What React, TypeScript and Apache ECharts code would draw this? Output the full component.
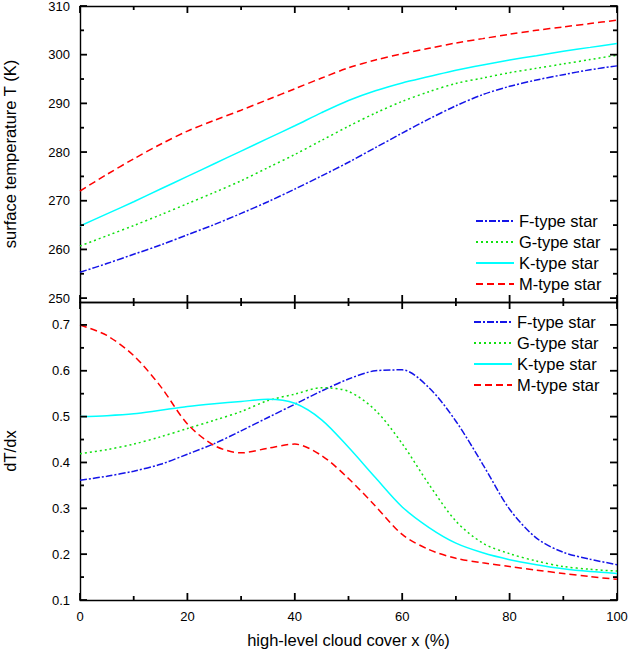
import React, { useEffect, useRef } from "react";
import * as echarts from "echarts";

// high-level cloud cover x (%)
const cloudCover = [0, 5, 10, 15, 20, 25, 30, 35, 40, 45, 50, 55, 60, 65, 70, 75, 80, 85, 90, 95, 100];

const starNames = ["F-type star", "G-type star", "K-type star", "M-type star"];

// surface temperature T (K)
const tempF = [255.3, 257.1, 259.0, 260.9, 263.0, 265.1, 267.4, 269.8, 272.4, 275.1, 277.9, 280.9, 283.9, 286.8, 289.5, 291.8, 293.5, 294.8, 295.9, 296.9, 297.7];
const tempG = [260.7, 262.8, 264.9, 267.1, 269.4, 271.7, 274.1, 276.8, 279.5, 282.4, 285.3, 288.0, 290.4, 292.4, 294.1, 295.2, 296.3, 297.2, 298.1, 299.0, 299.9];
const tempK = [264.8, 267.3, 269.8, 272.4, 275.0, 277.6, 280.2, 282.8, 285.4, 288.1, 290.6, 292.6, 294.2, 295.5, 296.8, 297.9, 298.9, 299.8, 300.7, 301.5, 302.3];
const tempM = [272.0, 275.4, 278.6, 281.6, 284.3, 286.5, 288.6, 290.8, 293.0, 295.2, 297.3, 298.9, 300.2, 301.3, 302.4, 303.3, 304.2, 305.0, 305.7, 306.4, 307.1];

// dT/dx
const slopeF = [0.361, 0.370, 0.381, 0.396, 0.418, 0.441, 0.469, 0.498, 0.527, 0.556, 0.582, 0.600, 0.602, 0.563, 0.490, 0.396, 0.298, 0.235, 0.204, 0.189, 0.177];
const slopeG = [0.419, 0.428, 0.440, 0.456, 0.474, 0.492, 0.511, 0.535, 0.549, 0.563, 0.555, 0.514, 0.441, 0.352, 0.272, 0.224, 0.201, 0.185, 0.173, 0.167, 0.163];
const slopeK = [0.500, 0.502, 0.506, 0.514, 0.522, 0.528, 0.533, 0.538, 0.529, 0.493, 0.433, 0.367, 0.303, 0.258, 0.224, 0.203, 0.188, 0.177, 0.168, 0.162, 0.158];
const slopeM = [0.700, 0.677, 0.633, 0.566, 0.484, 0.437, 0.421, 0.431, 0.440, 0.415, 0.365, 0.305, 0.243, 0.210, 0.191, 0.181, 0.173, 0.165, 0.158, 0.151, 0.145];

// tick positions
const xMajorTicks = [0, 20, 40, 60, 80, 100];
const xMinorTicks = [10, 30, 50, 70, 90];
const tempMajorTicks = [250, 260, 270, 280, 290, 300, 310];
const tempMinorTicks = [255, 265, 275, 285, 295, 305];
const slopeMajorTicks = [0.1, 0.2, 0.3, 0.4, 0.5, 0.6, 0.7];
const slopeMinorTicks = [0.15, 0.25, 0.35, 0.45, 0.55, 0.65];

const tempRange = [249.2, 310];
const slopeRange = [0.1, 0.75];

const colors = ["#1414e8", "#10e010", "#00ffff", "#ff0000"];
const dashes: (number[] | string)[] = [[7, 2, 2, 2], [2, 3], "solid", [7, 4]];

const font = '"Liberation Sans", Arial, sans-serif';

export default function App() {
  const ref = useRef<HTMLDivElement>(null);

  useEffect(() => {
    if (!ref.current) return;
    const chart = echarts.init(ref.current, undefined, { renderer: "svg" });

    const axisLine = () => ({ show: true, onZero: false, lineStyle: { color: "#000", width: 1.4 } });
    const label = { color: "#000", fontSize: 13, fontFamily: font };
    const nameStyle = { color: "#000", fontSize: 16.5, fontFamily: font };

    const xAxis = (gridIndex: number, position: "top" | "bottom", showLabel: boolean, name = "") => ({
      type: "value", gridIndex, position, min: 0, max: 100, interval: 20,
      name, nameLocation: "middle", nameGap: 31, nameTextStyle: { ...nameStyle },
      axisLine: axisLine(), axisTick: { show: false }, splitLine: { show: false },
      axisLabel: { show: showLabel, margin: 10, ...label },
    });

    const fmtTemp = (v: number) => (Math.abs(v % 10) < 1e-6 ? String(v) : "");
    const fmtSlope = (v: number) => (Math.abs(v * 10 - Math.round(v * 10)) < 1e-6 ? v.toFixed(1) : "");

    const yAxis = (gridIndex: number, position: "left" | "right", range: number[], split: number, fmt: (v: number) => string, name = "") => ({
      type: "value", gridIndex, position, min: range[0], max: range[1], splitNumber: split,
      name, nameLocation: "middle", nameGap: 62, nameTextStyle: { ...nameStyle },
      axisLine: axisLine(), axisTick: { show: false }, splitLine: { show: false },
      axisLabel: { show: position === "left", margin: 10, formatter: fmt, ...label },
    });

    const temps = [tempF, tempG, tempK, tempM];
    const slopes = [slopeF, slopeG, slopeK, slopeM];

    const makeSeries = (values: number[][], axisIdx: number) =>
      values.map((vals, i) => ({
        name: starNames[i],
        type: "line",
        xAxisIndex: axisIdx,
        yAxisIndex: axisIdx,
        data: cloudCover.map((x, j) => [x, vals[j]]),
        smooth: 0.3,
        symbol: "none",
        lineStyle: { color: colors[i], width: 1.5, type: dashes[i] },
        itemStyle: { color: colors[i] },
      }));

    // inward ticks on all four sides of a panel: [kind (0 = x, 1 = y), value, major]
    const tickSeries = (axisIdx: number, yMajor: number[], yMinor: number[], yRange: number[]) => {
      const data = [
        ...xMajorTicks.map(v => [0, v, 1]),
        ...xMinorTicks.map(v => [0, v, 0]),
        ...yMajor.map(v => [1, v, 1]),
        ...yMinor.map(v => [1, v, 0]),
      ];
      const tickLine = (x1: number, y1: number, x2: number, y2: number) => ({
        type: "line",
        shape: { x1, y1, x2, y2 },
        style: { stroke: "#000", lineWidth: 1.8, fill: null },
      });
      return {
        type: "custom",
        xAxisIndex: axisIdx,
        yAxisIndex: axisIdx,
        silent: true,
        clip: false,
        z: 10,
        data,
        renderItem: (_params: any, api: any) => {
          const kind = api.value(0);
          const v = api.value(1);
          const len = api.value(2) ? 7 : 4;
          if (kind === 0) {
            const a = api.coord([v, yRange[0]]);
            const b = api.coord([v, yRange[1]]);
            return {
              type: "group",
              children: [tickLine(a[0], a[1], a[0], a[1] - len), tickLine(b[0], b[1], b[0], b[1] + len)],
            };
          }
          const a = api.coord([0, v]);
          const b = api.coord([100, v]);
          return {
            type: "group",
            children: [tickLine(a[0], a[1], a[0] + len, a[1]), tickLine(b[0], b[1], b[0] - len, b[1])],
          };
        },
      };
    };

    // itemHeight kept tiny so the legend's fallback circle marker vanishes
    const legend = (left: number, top: number) => ({
      data: starNames,
      orient: "vertical",
      left, top,
      padding: 0,
      itemWidth: 38,
      itemHeight: 1,
      itemGap: 3,
      itemStyle: { opacity: 0 },
      textStyle: { color: "#000", fontSize: 16.5, fontFamily: font, lineHeight: 18 },
    });

    chart.setOption({
      animation: false,
      backgroundColor: "#fff",
      textStyle: { fontFamily: font },
      grid: [
        { left: 80, right: 11, top: 6, height: 296, outerBoundsMode: "none" },
        { left: 80, right: 11, top: 302, height: 298, outerBoundsMode: "none" },
      ],
      legend: [legend(475, 212), legend(473, 313)],
      xAxis: [
        xAxis(0, "bottom", false),
        xAxis(0, "top", false),
        xAxis(1, "bottom", true, "high-level cloud cover x (%)"),
        xAxis(1, "top", false),
      ],
      yAxis: [
        yAxis(0, "left", tempRange, 6, fmtTemp, "surface temperature T (K)"),
        yAxis(0, "right", tempRange, 6, fmtTemp),
        yAxis(1, "left", slopeRange, 7, fmtSlope, "dT/dx"),
        yAxis(1, "right", slopeRange, 7, fmtSlope),
      ],
      series: [
        ...makeSeries(temps, 0),
        ...makeSeries(slopes, 2),
        tickSeries(0, tempMajorTicks, tempMinorTicks, tempRange),
        tickSeries(2, slopeMajorTicks, slopeMinorTicks, slopeRange),
      ],
    });

    return () => chart.dispose();
  }, []);

  return <div ref={ref} style={{ position: "fixed", left: 0, top: 0, width: 628, height: 650 }} />;
}
